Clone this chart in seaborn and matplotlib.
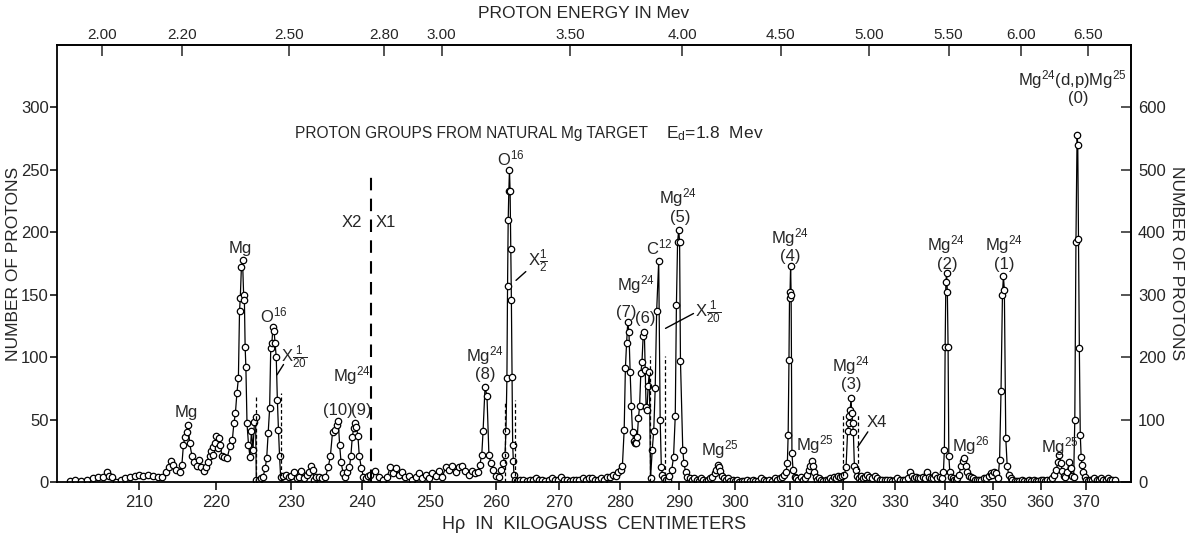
"""
Proton groups from a natural Mg target (Ed = 1.8 MeV).
Counts vs. H-rho on a log axis, proton energy on top, x2 scale on the right.
"""

import matplotlib
matplotlib.use("Agg")
import matplotlib.pyplot as plt
import matplotlib.ticker as mticker
import numpy as np
import pandas as pd
import seaborn as sns

# ── Data ─────────────────────────────────────────────────────────────────────
hrho = [
    201.5, 202.2, 202.9, 203.6, 204.3, 205.0, 205.6, 206.1, 206.3, 206.7,
    207.2, 207.8, 208.3, 208.9, 209.5, 210.0, 210.6, 211.2, 211.8, 212.4,
    212.9, 213.4, 213.8, 214.1, 214.4, 214.8, 215.2,
    215.5, 215.7, 215.9, 216.1, 216.3, 216.5, 216.8, 217.1, 217.4, 217.7,
    218.0, 218.3, 218.6, 218.9,
    219.1, 219.3, 219.5, 219.6, 219.8, 220.0, 220.2, 220.3, 220.5, 220.7,
    221.0, 221.4, 221.8, 222.1,
    222.3, 222.5, 222.7, 222.9, 223.05, 223.15, 223.3, 223.45, 223.6, 223.7,
    223.8, 223.9, 224.05, 224.25, 224.45, 224.65, 224.85, 225.05, 225.2,
    225.3, 225.6, 225.9, 226.2, 226.5, 226.7, 226.9, 227.1, 227.25, 227.4,
    227.55, 227.7, 227.85, 228.0, 228.15, 228.3, 228.45, 228.6,
    228.9, 229.3, 229.7, 230.0, 230.4, 230.8, 231.1, 231.4, 231.8, 232.2,
    232.5, 232.8, 233.0, 233.2, 233.5, 233.9, 234.3, 234.8, 235.2, 235.5,
    235.8, 236.1, 236.4, 236.6, 236.8, 237.0, 237.3, 237.6, 237.9, 238.2,
    238.4, 238.6, 238.8, 239.0, 239.2, 239.4, 239.6, 239.9, 240.2, 240.5,
    240.9, 241.2,
    241.8, 242.4, 243.0, 243.6, 244.1, 244.5, 244.9, 245.3, 245.8, 246.3,
    246.8, 247.3, 247.8, 248.3, 248.8, 249.3, 249.8, 250.3, 250.8, 251.3,
    251.8, 252.3, 252.8, 253.3, 253.8, 254.3, 254.8, 255.3, 255.8, 256.3,
    256.8, 257.2,
    257.5, 257.8, 258.0, 258.3, 258.6, 258.9, 259.2, 259.6, 260.0, 260.4,
    260.8, 261.1,
    261.4, 261.55, 261.7, 261.8, 261.9, 262.0, 262.1, 262.2, 262.3, 262.4,
    262.5, 262.6, 262.7, 262.8, 262.95,
    263.3, 263.8, 264.3, 264.8, 265.3, 265.8, 266.3, 266.8, 267.3, 267.8,
    268.3, 268.8, 269.3, 269.8, 270.3, 270.8, 271.3, 271.8, 272.3, 272.8,
    273.3, 273.8, 274.3, 274.8, 275.3, 275.8, 276.3, 276.8, 277.3, 277.8,
    278.3, 278.8, 279.3, 279.7, 280.1, 280.4,
    280.7, 280.9, 281.1, 281.3, 281.5, 281.7, 281.9, 282.1, 282.3, 282.5,
    282.7, 282.9, 283.1, 283.3, 283.5, 283.7, 283.9, 284.1, 284.25, 284.4,
    284.55, 284.75, 284.95,
    285.15, 285.45, 285.7, 285.95, 286.2, 286.55, 286.8, 287.0, 287.2, 287.5,
    287.8, 288.1, 288.4, 288.8, 289.1, 289.4, 289.6, 289.8, 290.0, 290.15,
    290.3, 290.7, 290.9, 291.2, 291.5, 291.9,
    292.3, 292.7, 293.1, 293.5, 293.9, 294.3, 294.7, 295.1, 295.5, 295.9,
    296.3, 296.6, 296.9, 297.1, 297.3, 297.6, 297.9, 298.3, 298.7, 299.1,
    299.5, 299.9, 300.3, 300.7, 301.1, 301.6, 302.1, 302.6, 303.1, 303.6,
    304.1, 304.6, 305.1, 305.6, 306.1, 306.6, 307.1, 307.6, 308.1, 308.5,
    308.9,
    309.2, 309.45, 309.6, 309.75, 309.85, 309.95, 310.05, 310.15, 310.3, 310.5,
    310.8, 311.1, 311.5, 311.9, 312.3, 312.7, 313.1, 313.4, 313.7, 313.95,
    314.15, 314.4, 314.7, 315.0, 315.4, 315.8, 316.2, 316.6, 317.0, 317.4,
    317.8, 318.2, 318.6, 319.0, 319.4, 319.8,
    320.2, 320.5, 320.8, 321.0, 321.15, 321.3, 321.45, 321.6, 321.75, 321.9,
    322.1, 322.35, 322.6, 322.9, 323.3, 323.7, 324.1, 324.5, 325.0, 325.5,
    326.0, 326.5, 327.0, 327.5, 328.0, 328.5, 329.0, 329.5, 330.0, 330.5,
    331.0, 331.5, 332.0, 332.5, 333.0, 333.4, 333.8, 334.2, 334.6, 335.0,
    335.5, 336.0, 336.4, 336.8, 337.2, 337.6, 338.0, 338.5, 339.0,
    339.4, 339.7, 339.9, 340.05, 340.2, 340.35, 340.5, 340.65, 340.8, 341.0,
    341.3, 341.6, 341.9, 342.2, 342.5, 342.9, 343.3, 343.7, 344.0, 344.3,
    344.6, 344.9, 345.3, 345.7, 346.1, 346.5, 347.0, 347.5, 348.0, 348.5,
    349.0, 349.4, 349.8, 350.2, 350.6, 351.0,
    351.3, 351.6, 351.9, 352.1, 352.3, 352.6, 352.9, 353.2, 353.6, 354.0,
    354.5, 355.0, 355.5, 356.0, 356.5, 357.0, 357.5, 358.0, 358.5, 359.0,
    359.5, 360.0, 360.5, 361.0, 361.5, 362.0, 362.5, 363.0, 363.4, 363.8,
    364.1, 364.4, 364.7, 365.0, 365.4, 365.8, 366.2, 366.6, 366.9, 367.2,
    367.45, 367.7, 367.95, 368.1, 368.25, 368.45, 368.65, 368.85, 369.05, 369.3,
    369.6, 369.9, 370.3, 370.8, 371.3, 371.8, 372.3, 372.8, 373.3, 373.8,
    374.3, 374.8, 375.3, 375.8, 376.3,
]
counts = [
    1, 2, 1, 2, 3, 4, 4, 8, 5, 4,
    0, 2, 3, 4, 5, 6, 5, 6, 5, 4,
    4, 8, 12, 17, 14, 10, 8,
    14, 30, 36, 40, 46, 31, 21, 16, 13, 18,
    12, 9, 12, 16,
    21, 25, 28, 22, 31, 37, 27, 35, 30, 21,
    20, 19, 29, 34,
    47, 55, 71, 83, 137, 147, 172, 178, 150, 146,
    108, 92, 47, 30, 20, 41, 26, 48, 52,
    2, 2, 3, 4, 11, 19, 39, 59, 107, 111,
    124, 121, 111, 100, 66, 42, 21, 4,
    5, 6, 4, 5, 8, 3, 4, 9, 3, 6,
    8, 13, 10, 2, 4, 4, 3, 4, 12, 21,
    40, 42, 46, 49, 30, 16, 7, 4, 8, 12,
    21, 36, 43, 47, 44, 37, 21, 11, 4, 3,
    5, 6,
    9, 4, 2, 4, 12, 7, 11, 6, 8, 4,
    5, 2, 4, 7, 3, 6, 3, 7, 5, 9,
    4, 12, 10, 13, 8, 12, 13, 9, 6, 9,
    7, 8,
    14, 22, 41, 76, 69, 22, 15, 10, 5, 4,
    10, 15,
    22, 41, 83, 157, 210, 233, 250, 233, 187, 146,
    84, 30, 17, 6, 2,
    1, 2, 2, 1, 2, 2, 3, 2, 2, 1,
    2, 3, 2, 2, 4, 2, 2, 1, 2, 2,
    2, 3, 2, 3, 3, 2, 2, 3, 2, 4,
    4, 6, 5, 8, 10, 13,
    42, 91, 111, 128, 120, 88, 61, 40, 33, 31,
    31, 36, 51, 61, 87, 96, 117, 120, 90, 60,
    58, 77, 88,
    3, 26, 41, 75, 137, 177, 50, 12, 6, 3,
    2, 2, 5, 10, 20, 53, 142, 192, 202, 192,
    97, 26, 15, 8, 4, 3,
    2, 3, 2, 1, 3, 2, 1, 2, 3, 4,
    7, 10, 14, 12, 9, 5, 3, 2, 3, 1,
    2, 1, 2, 0, 1, 1, 2, 1, 2, 1,
    1, 3, 2, 1, 2, 1, 3, 2, 3, 4,
    6,
    8, 15, 38, 98, 147, 152, 173, 150, 23, 10,
    4, 3, 2, 4, 2, 3, 6, 10, 13, 17,
    13, 8, 4, 2, 3, 2, 1, 2, 2, 3,
    2, 4, 3, 5, 4, 5,
    6, 12, 41, 47, 53, 58, 67, 55, 47, 40,
    13, 10, 5, 3, 5, 3, 4, 6, 4, 3,
    5, 3, 2, 2, 2, 2, 2, 1, 2, 3,
    2, 2, 2, 3, 8, 5, 3, 4, 3, 3,
    4, 3, 8, 4, 3, 3, 6, 3, 4,
    3, 8, 26, 108, 160, 167, 152, 108, 21, 8,
    4, 3, 2, 2, 3, 6, 13, 17, 19, 13,
    8, 5, 4, 3, 2, 2, 2, 2, 3, 3,
    5, 7, 6, 8, 7, 3,
    18, 73, 150, 165, 154, 35, 13, 6, 3, 2,
    1, 1, 1, 2, 1, 1, 2, 1, 2, 1,
    1, 2, 2, 1, 2, 2, 3, 6, 10, 16,
    22, 15, 9, 5, 4, 8, 16, 11, 5, 4,
    50, 192, 278, 270, 195, 107, 38, 20, 14, 8,
    4, 2, 1, 2, 2, 3, 2, 2, 3, 2,
    2, 3, 2, 2, 2,
]

x_ticks = [210, 220, 230, 240, 250, 260, 270, 280, 290, 300,
           310, 320, 330, 340, 350, 360, 370]
energy_ticks = [2.00, 2.20, 2.50, 2.80, 3.00, 3.50, 4.00, 4.50, 5.00, 5.50, 6.00, 6.50]
left_ticks = [0, 50, 100, 150, 200, 250, 300]
right_ticks = [0, 100, 200, 300, 400, 500, 600]

# scale-change boundaries (H-rho) and the height of each dashed marker
break_hrho = [225.2, 228.6, 261.35, 262.95, 285.1, 287.55, 319.9, 322.7]
break_top = [70, 71, 63, 66, 101, 101, 54, 54]
main_break_hrho = 241.3
main_break_top = 246

# peak labels: (text, H-rho, counts)
labels = [
    ("Mg", 216.1, 56),
    ("Mg", 223.2, 187),
    ("O$^{16}$", 227.6, 133),
    ("Mg$^{24}$", 238.6, 85),
    ("(10)", 236.6, 57),
    ("(9)", 239.9, 57),
    ("X2", 238.5, 208),
    ("X1", 243.5, 208),
    ("Mg$^{24}$", 258.3, 101),
    ("(8)", 258.3, 86),
    ("O$^{16}$", 262.3, 259),
    ("Mg$^{24}$", 282.6, 158),
    ("(7)", 281.1, 136),
    ("(6)", 284.2, 131),
    ("C$^{12}$", 286.7, 188),
    ("Mg$^{24}$", 289.8, 228),
    ("(5)", 290.2, 212),
    ("Mg$^{25}$", 297.2, 26),
    ("Mg$^{24}$", 310.0, 196),
    ("(4)", 310.0, 181),
    ("Mg$^{25}$", 314.6, 30),
    ("Mg$^{24}$", 321.4, 93),
    ("(3)", 321.5, 78),
    ("Mg$^{24}$", 340.3, 190),
    ("(2)", 340.4, 174),
    ("Mg$^{26}$", 345.3, 29),
    ("Mg$^{24}$", 352.3, 190),
    ("(1)", 352.3, 174),
    ("Mg$^{25}$", 364.2, 28),
    ("Mg$^{24}$(d,p)Mg$^{25}$", 367.0, 322),
    ("(0)", 368.2, 307),
]

# scale-factor notes with a leader line: (text, text pos, line start, line end)
factor_notes = [
    (r"X$\frac{1}{20}$", (230.4, 100), (227.9, 84), (229.2, 96)),
    (r"X$\frac{1}{2}$", (266.6, 177), (262.8, 160), (265.0, 170)),
    (r"X$\frac{1}{20}$", (295.2, 136), (287.3, 122), (293.0, 136)),
    ("X4", (326.4, 48), (322.4, 26), (325.0, 42)),
]

# ── Styling ──────────────────────────────────────────────────────────────────
sns.set_theme(style="ticks")
plt.rcParams["font.family"] = ["Liberation Sans", "DejaVu Sans"]
plt.rcParams["mathtext.fontset"] = "custom"
plt.rcParams["mathtext.rm"] = "Liberation Sans"
plt.rcParams["mathtext.default"] = "rm"

W, H = 1186, 535
fig, ax = plt.subplots(figsize=(W / 100, H / 100), dpi=100)
fig.subplots_adjust(left=57 / W, right=1131 / W, bottom=1 - 482 / H, top=1 - 45 / H)

ax.set_xscale("log")
df = pd.DataFrame({"hrho": hrho, "counts": counts})
sns.lineplot(
    data=df, x="hrho", y="counts", sort=False, estimator=None,
    color="black", linewidth=0.9, marker="o", markersize=4.6,
    markerfacecolor="white", markeredgecolor="black", markeredgewidth=0.9,
    ax=ax,
)

ax.set_xlim(200, 380)
ax.set_ylim(0, 350)

# dashed markers where the plotted scale factor changes
ax.vlines(break_hrho, 0, break_top, colors="black", linestyles=(0, (3, 2)), linewidth=0.9)
ax.vlines(main_break_hrho, 0, main_break_top, colors="black", linestyles=(0, (6, 4)), linewidth=1.5)

for text, hx, cy in labels:
    ax.text(hx, cy, text, ha="center", va="center", fontsize=12)

for text, pos, start, end in factor_notes:
    ax.annotate("", xy=start, xytext=end,
                arrowprops=dict(arrowstyle="-", color="black", lw=1.0))
    ax.text(pos[0], pos[1], text, ha="center", va="center", fontsize=12)

ax.text(230.6, 279, "PROTON GROUPS FROM NATURAL Mg TARGET", ha="left",
        va="center", fontsize=11.2)
ax.text(287.8, 279, "E$_d$=1.8  Mev", ha="left", va="center", fontsize=12.5)

# ── Axes ─────────────────────────────────────────────────────────────────────
ax.xaxis.set_major_locator(mticker.FixedLocator(x_ticks))
ax.xaxis.set_minor_locator(mticker.NullLocator())
ax.set_xticklabels([str(t) for t in x_ticks])
ax.set_yticks(left_ticks)
ax.tick_params(axis="x", direction="out", length=6, width=1.1, labelsize=12, color="black")
ax.tick_params(axis="y", direction="out", length=5, width=1.1, labelsize=12, pad=1, color="black")
ax.set_xlabel("Hρ  IN  KILOGAUSS  CENTIMETERS", fontsize=13, labelpad=4)
ax.set_ylabel("")

for side in ["top", "right", "left", "bottom"]:
    ax.spines[side].set_visible(True)
    ax.spines[side].set_linewidth(1.3)
    ax.spines[side].set_color("black")

# proton energy scale, E = (H-rho / 145.3)^2
top = ax.secondary_xaxis(
    "top",
    functions=(lambda h: (np.asarray(h) / 145.3) ** 2,
               lambda e: 145.3 * np.sqrt(np.clip(e, 1e-6, None))),
)
top.xaxis.set_major_locator(mticker.FixedLocator(energy_ticks))
top.xaxis.set_minor_locator(mticker.NullLocator())
top.set_xticklabels([f"{e:.2f}" for e in energy_ticks])
top.tick_params(direction="in", length=8, width=1.1, labelsize=11, pad=2)

right = ax.secondary_yaxis("right", functions=(lambda y: 2 * y, lambda y: y / 2))
right.set_yticks(right_ticks)
right.tick_params(direction="in", length=7, width=1.1, labelsize=12, pad=5)

# axis titles placed where the original lettering sits
mid_y = 1 - 263.5 / H
fig.text(14 / W, mid_y, "NUMBER OF PROTONS", rotation=90, ha="center", va="center", fontsize=12.5)
fig.text(1177 / W, mid_y, "NUMBER OF PROTONS", rotation=270, ha="center", va="center", fontsize=12.5)
fig.text(584 / W, 1 - 14 / H, "PROTON ENERGY IN Mev", ha="center", va="center", fontsize=12.5)

fig.savefig("out.png", dpi=100)
